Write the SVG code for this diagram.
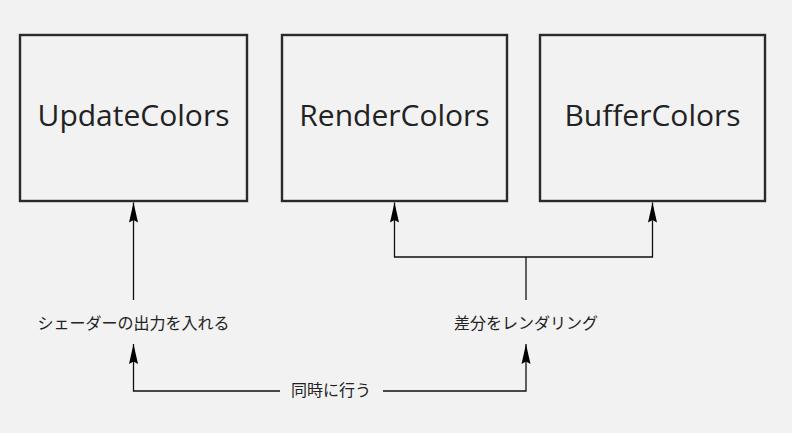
<svg xmlns="http://www.w3.org/2000/svg" width="792" height="433" viewBox="0 0 792 433">
<style>
.box{fill:#f2f2f2;stroke:#2a2a2a;stroke-width:2.4}
.t{font-family:"Open Sans","Noto Sans",sans-serif;font-size:30px;fill:#222;text-anchor:middle}
.j{font-family:"Noto Sans CJK JP",sans-serif;font-size:16px;fill:#222;text-anchor:middle}
.ln{fill:none;stroke:#111;stroke-width:1.3}
</style>
<defs>
<marker id="ah" markerUnits="userSpaceOnUse" markerWidth="22" markerHeight="12" viewBox="0 0 22 12" refX="20" refY="6" orient="auto">
<path d="M20,6 L0,1.5 L2.5,6 L0,10.5 Z" fill="#000"/>
</marker>
</defs>
<rect width="792" height="433" fill="#f2f2f2"/>
<g id="UpdateColors"><rect class="box" x="20" y="35" width="227" height="166"/><text class="t" x="133.5" y="126">UpdateColors</text></g>
<g id="RenderColors"><rect class="box" x="282" y="35" width="225" height="166"/><text class="t" x="394.5" y="126">RenderColors</text></g>
<g id="BufferColors"><rect class="box" x="540" y="35" width="225" height="166"/><text class="t" x="652.5" y="126">BufferColors</text></g>
<g id="label-shader"><text class="j" x="133.5" y="329">シェーダーの出力を入れる</text></g>
<g id="label-diff"><text class="j" x="526" y="329">差分をレンダリング</text></g>
<g id="label-sync"><text class="j" x="331" y="396">同時に行う</text></g>
<g id="connectors">
<path class="ln" d="M133.5,300 V202.5" marker-end="url(#ah)"/>
<path class="ln" d="M280,391 H133.5 V344" marker-end="url(#ah)"/>
<path class="ln" d="M383,391 H526 V344" marker-end="url(#ah)"/>
<path class="ln" d="M526,300 V257"/>
<path class="ln" d="M526,257 H394.5 V202.5" marker-end="url(#ah)"/>
<path class="ln" d="M526,257 H652.5 V202.5" marker-end="url(#ah)"/>
</g>
</svg>
